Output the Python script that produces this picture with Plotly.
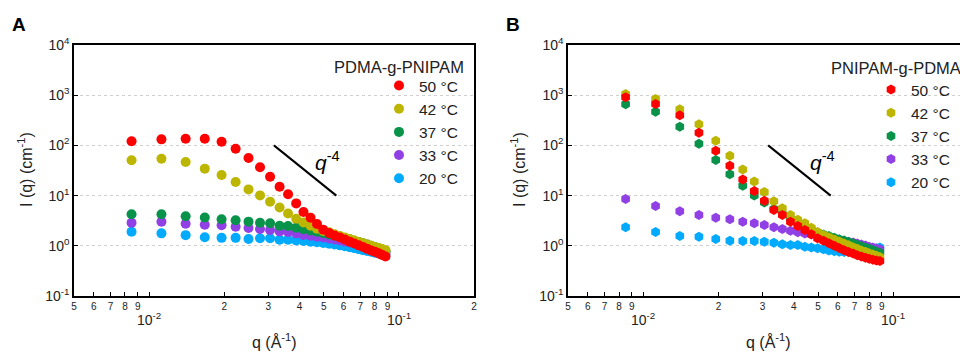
import plotly.graph_objects as go
import math

# ---------------- data ----------------
q = [0.0085, 0.0112, 0.0140, 0.0167, 0.0195, 0.0222, 0.0250, 0.0278, 0.0305, 0.0333,
     0.0360, 0.0388, 0.0415, 0.0443, 0.0470, 0.0498, 0.0526, 0.0553, 0.0581, 0.0608,
     0.0636, 0.0663, 0.0691, 0.0718, 0.0746, 0.0774, 0.0801, 0.0829, 0.0856, 0.0884]

temps = ["50 °C", "42 °C", "37 °C", "33 °C", "20 °C"]
colors = ["#ff0000", "#bdb600", "#08924a", "#9140e6", "#00aaff"]

A_50 = [121, 132, 136, 136, 118, 86, 56, 36.6, 23.8, 15.0, 10.6, 7.0, 4.7, 3.63, 2.72,
        2.08, 1.79, 1.61, 1.46, 1.33, 1.21, 1.11, 1.02, 0.95, 0.87, 0.81, 0.76, 0.71, 0.66, 0.61]
A_42 = [50.5, 54.3, 46.7, 34.4, 25.7, 18.7, 13.3, 10.1, 7.55, 5.8, 4.40, 3.45, 2.91, 2.51, 2.19,
        1.97, 1.86, 1.70, 1.57, 1.46, 1.36, 1.27, 1.19, 1.12, 1.06, 1.00, 0.95, 0.90, 0.86, 0.82]
A_37 = [4.24, 4.24, 3.87, 3.66, 3.39, 3.22, 3.03, 2.88, 2.81, 2.51, 2.48, 2.28, 2.14, 2.02, 1.90,
        1.79, 1.68, 1.58, 1.49, 1.41, 1.33, 1.26, 1.19, 1.12, 1.06, 1.00, 0.95, 0.89, 0.84, 0.78]
A_33 = [2.88, 3.02, 2.76, 2.63, 2.56, 2.40, 2.26, 2.16, 2.06, 1.94, 1.88, 1.77, 1.64, 1.58, 1.52,
        1.46, 1.40, 1.34, 1.28, 1.22, 1.16, 1.11, 1.06, 1.01, 0.96, 0.91, 0.86, 0.81, 0.77, 0.73]
A_20 = [1.90, 1.77, 1.63, 1.48, 1.44, 1.44, 1.37, 1.41, 1.41, 1.32, 1.32, 1.28, 1.25, 1.21, 1.18,
        1.14, 1.10, 1.06, 1.02, 0.98, 0.94, 0.90, 0.86, 0.82, 0.79, 0.76, 0.73, 0.70, 0.67, 0.65]

B_50 = [908, 668, 398, 179, 78.4, 39.4, 20.9, 12.4, 7.91, 5.17, 4.11, 3.02, 2.48, 2.06, 1.69,
        1.41, 1.26, 1.12, 1.00, 0.90, 0.82, 0.75, 0.70, 0.65, 0.61, 0.58, 0.55, 0.53, 0.51, 0.50]
B_42 = [1057, 840, 524, 263, 124, 62.4, 33.1, 19.1, 11.8, 7.73, 5.58, 4.11, 3.31, 2.81, 2.29,
        1.88, 1.65, 1.48, 1.34, 1.22, 1.11, 1.02, 0.94, 0.87, 0.81, 0.76, 0.71, 0.67, 0.63, 0.60]
B_37 = [659, 469, 236, 108, 51.2, 26.6, 15.7, 10.0, 7.3, 5.4, 4.3, 3.4, 2.8, 2.4, 2.1,
        1.85, 1.68, 1.56, 1.45, 1.35, 1.27, 1.19, 1.12, 1.05, 0.99, 0.93, 0.87, 0.82, 0.77, 0.73]
B_33 = [8.56, 6.21, 4.87, 4.11, 3.63, 3.37, 3.02, 2.81, 2.60, 2.34, 2.16, 2.00, 1.86, 1.76, 1.67,
        1.59, 1.51, 1.44, 1.38, 1.32, 1.26, 1.21, 1.16, 1.11, 1.06, 1.01, 0.96, 0.92, 0.88, 0.85]
B_20 = [2.34, 1.88, 1.57, 1.52, 1.37, 1.26, 1.25, 1.25, 1.21, 1.15, 1.07, 1.04, 1.04, 0.96, 0.92,
        0.89, 0.85, 0.81, 0.78, 0.76, 0.75, 0.75, 0.76, 0.77, 0.78, 0.80, 0.82, 0.85, 0.89, 0.93]

# q^-4 guide line (start / end)
guide_q = [0.0316, 0.0562]
guide_I = [100, 10]

x_tickvals = [0.005, 0.006, 0.007, 0.008, 0.009, 0.01, 0.02, 0.03, 0.04, 0.05,
              0.06, 0.07, 0.08, 0.09, 0.1, 0.2]
x_ticktext = ["5", "6", "7", "8", "9", " ", "2", "3", "4", "5", "6", "7", "8", "9", " ", "2"]
x_decades = [0.01, 0.1]
x_decade_text = ["10<sup>-2</sup>", "10<sup>-1</sup>"]
y_tickvals = [0.1, 1, 10, 100, 1000, 10000]
y_ticktext = ["10<sup>-1</sup>", "10<sup>0</sup>", "10<sup>1</sup>", "10<sup>2</sup>",
              "10<sup>3</sup>", "10<sup>4</sup>"]

FONT = "Liberation Sans, Arial, sans-serif"
W, H = 960, 354

fig = go.Figure()

panels = [
    dict(xa="x", ya="y", data=[A_50, A_42, A_37, A_33, A_20], symbol="circle", legend="legend"),
    dict(xa="x2", ya="y2", data=[B_50, B_42, B_37, B_33, B_20], symbol="hexagon", legend="legend2"),
]

for p in panels:
    # draw lowest temperature first so the 50 °C series sits on top
    for i in reversed(range(5)):
        fig.add_trace(go.Scatter(
            x=q, y=p["data"][i], mode="markers", name=temps[i],
            xaxis=p["xa"], yaxis=p["ya"], legend=p["legend"],
            marker=dict(symbol=p["symbol"], size=10, color=colors[i], line=dict(width=0)),
        ))
    fig.add_trace(go.Scatter(
        x=guide_q, y=guide_I, mode="lines", showlegend=False,
        xaxis=p["xa"], yaxis=p["ya"], line=dict(color="black", width=2),
        hoverinfo="skip",
    ))

ydom = [58 / H, 309 / H]
xlo = math.log10(0.005)
common_x = dict(
    type="log", tickmode="array", tickvals=x_tickvals, ticktext=x_ticktext,
    ticks="inside", ticklen=4, tickwidth=1, tickcolor="black",
    showline=True, linecolor="black", linewidth=1.5, mirror=True,
    showgrid=False, zeroline=False, automargin=False,
    tickfont=dict(family=FONT, size=10, color="#222"),
)
common_y = dict(
    type="log", tickmode="array", tickvals=y_tickvals, ticktext=y_ticktext,
    ticks="inside", ticklen=4, tickwidth=1, tickcolor="black",
    showline=True, linecolor="black", linewidth=1.5,
    showgrid=True, gridcolor="#cfcfcf", griddash="dot", gridwidth=1,
    zeroline=False, range=[-1, 4], automargin=False,
    tickfont=dict(family=FONT, size=14, color="#222"),
)

fig.update_layout(
    width=W, height=H, margin=dict(l=0, r=0, t=0, b=0, autoexpand=False),
    paper_bgcolor="white", plot_bgcolor="white",
    font=dict(family=FONT, color="#222"),
    xaxis=dict(domain=[74 / W, 474 / W], range=[xlo, math.log10(0.2)], **common_x),
    yaxis=dict(domain=ydom, anchor="x", mirror=True, **common_y),
    xaxis2=dict(domain=[568 / W, 1.0], range=[xlo, xlo + 392 / 250], anchor="y2", **common_x),
    yaxis2=dict(domain=ydom, anchor="x2", mirror=False, **common_y),
    legend=dict(x=379 / W, y=(H - 69) / H, xanchor="left", yanchor="top",
                traceorder="reversed", bgcolor="rgba(0,0,0,0)",
                font=dict(family=FONT, size=15.5, color="#222"), itemsizing="trace"),
    legend2=dict(x=871 / W, y=(H - 73) / H, xanchor="left", yanchor="top",
                 traceorder="reversed", bgcolor="rgba(0,0,0,0)",
                 font=dict(family=FONT, size=15.5, color="#222"), itemsizing="trace"),
    showlegend=True,
)

ann = []


def add(text, x, y, xref="paper", yref="paper", xanchor="center", yanchor="middle",
        size=16, color="#222", angle=0):
    ann.append(dict(text=text, x=x, y=y, xref=xref, yref=yref, xanchor=xanchor,
                    yanchor=yanchor, showarrow=False, textangle=angle,
                    font=dict(family=FONT, size=size, color=color)))


# panel letters
add("<b>A</b>", 19 / W, (H - 25) / H, size=19, color="black")
add("<b>B</b>", 513 / W, (H - 25) / H, size=19, color="black")
# legend titles
add("PDMA-g-PNIPAM", 466 / W, (H - 67) / H, xanchor="right", size=16.5)
add("PNIPAM-g-PDMA", 829 / W, (H - 68) / H, xanchor="left", size=16.5)
# decade labels, slope labels
for xa, ya in [("x", "y"), ("x2", "y2")]:
    for v, t in zip(x_decades, x_decade_text):
        add(t, math.log10(v), (H - 319) / H, xref=xa, size=14)
    add("<i>q</i><sup>-4</sup>", math.log10(0.0455), math.log10(50), xref=xa, yref=ya,
        xanchor="left", size=21, color="black")
# axis titles
for cx, yx in [(274, 25), (768, 518)]:
    add("q (Å<sup>-1</sup>)", cx / W, (H - 341) / H, size=16)
    add("I (q) (cm<sup>-1</sup>)", yx / W, (H - 170) / H, size=16, angle=-90)
fig.update_layout(annotations=ann)

fig.write_html("out.html", config={"displayModeBar": False},
               post_script="document.body.style.margin='0px';")
